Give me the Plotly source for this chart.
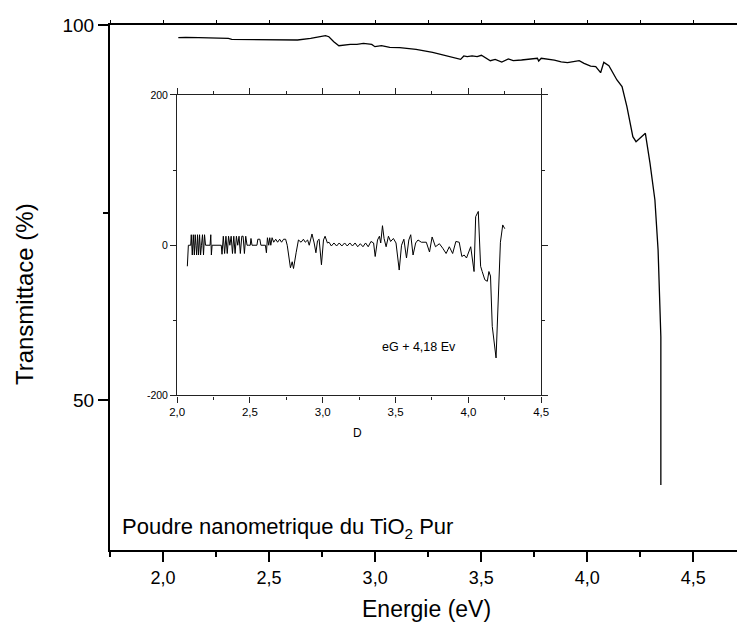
import plotly.graph_objects as go

# ---------------- data ----------------
# Main transmittance curve (Energy eV, Transmittance %)
main_energy = [2.072, 2.107, 2.169, 2.308, 2.324, 2.479, 2.634, 2.696, 2.766, 2.782,
               2.805, 2.829, 2.883, 2.914, 2.945, 2.984, 2.999, 3.030, 3.069, 3.116,
               3.193, 3.271, 3.333, 3.380, 3.403, 3.418, 3.434, 3.457, 3.481, 3.501,
               3.519, 3.543, 3.566, 3.597, 3.628, 3.651, 3.690, 3.737, 3.765, 3.771,
               3.783, 3.845, 3.877, 3.907, 3.939, 3.962, 3.985, 4.016, 4.040, 4.063,
               4.078, 4.102, 4.140, 4.164, 4.187, 4.215, 4.230, 4.249, 4.274, 4.296,
               4.319, 4.334, 4.342, 4.347, 4.347]
main_trans = [98.31, 98.36, 98.31, 98.22, 98.09, 98.04, 98.00, 98.22, 98.58, 98.44,
              97.78, 97.24, 97.42, 97.42, 97.56, 97.42, 97.11, 97.24, 97.02, 96.98,
              96.76, 96.36, 95.91, 95.56, 95.42, 95.87, 95.78, 95.87, 95.78, 95.96,
              95.69, 95.24, 95.42, 95.07, 95.47, 95.24, 95.33, 95.47, 95.56, 95.20,
              95.56, 95.33, 95.07, 94.98, 95.16, 95.24, 94.89, 94.53, 94.44, 93.64,
              95.02, 94.58, 92.67, 91.78, 89.11, 85.11, 84.44, 84.98, 85.56, 81.56,
              76.67, 70.00, 63.33, 58.44, 38.67]

# Inset derivative curve
inset_energy = [2.070, 2.077, 2.093, 2.097, 2.104, 2.111, 2.118, 2.124, 2.129, 2.134,
                2.140, 2.147, 2.154, 2.161, 2.167, 2.174, 2.181, 2.188, 2.195, 2.226,
                2.231, 2.235, 2.240, 2.303, 2.308, 2.317, 2.326, 2.335, 2.344, 2.353,
                2.362, 2.371, 2.380, 2.389, 2.398, 2.407, 2.416, 2.425, 2.434, 2.444,
                2.453, 2.462, 2.471, 2.480, 2.489, 2.502, 2.507, 2.514, 2.548, 2.554,
                2.568, 2.575, 2.606, 2.613, 2.620, 2.629, 2.636, 2.643, 2.652, 2.663,
                2.677, 2.690, 2.704, 2.717, 2.731, 2.745, 2.756, 2.778, 2.790, 2.799,
                2.817, 2.833, 2.851, 2.867, 2.880, 2.896, 2.907, 2.926, 2.941, 2.953,
                2.964, 2.975, 2.991, 3.005, 3.016, 3.032, 3.043, 3.059, 3.077, 3.095,
                3.113, 3.131, 3.150, 3.168, 3.186, 3.204, 3.222, 3.240, 3.258, 3.276,
                3.294, 3.312, 3.331, 3.349, 3.360, 3.376, 3.389, 3.398, 3.410, 3.421,
                3.435, 3.451, 3.466, 3.485, 3.503, 3.525, 3.541, 3.557, 3.575, 3.591,
                3.604, 3.620, 3.638, 3.654, 3.677, 3.711, 3.733, 3.751, 3.774, 3.801,
                3.824, 3.847, 3.869, 3.892, 3.914, 3.937, 3.955, 3.971, 3.987, 4.016,
                4.039, 4.050, 4.068, 4.084, 4.095, 4.113, 4.130, 4.141, 4.152, 4.164,
                4.190, 4.220, 4.236, 4.250]
inset_deriv = [-28, 0, 0, 14, -13, 14, -13, 14, 0, -13,
               14, -13, 14, -13, 0, 14, -13, 14, 0, 0,
               14, -13, 0, 0, -12, 12, -11, 12, -11, 12,
               0, 12, -11, 12, -11, 12, 0, 12, -11, 12,
               12, -11, 12, 0, 0, 0, 9, 0, 0, 8,
               8, 0, 0, -10, 10, 0, 10, 0, 10, 4,
               8, 4, 8, 4, 8, 8, 0, -30, -22, -31,
               -10, 7, 4, 8, 4, 7, 0, 15, 3, -10,
               6, 8, -26, 7, 12, 3, 4, -1, 3, -1,
               3, -1, 3, -1, 3, -1, 3, -2, 2, -2,
               3, -2, 5, 3, -15, 7, 12, 3, 26, 9,
               -2, 12, 5, 9, 3, -33, 0, 8, -17, 7,
               14, -13, 3, 7, 4, 4, -9, 11, -2, 2,
               -4, -11, -2, -11, 5, 4, -15, -13, -17, -2,
               -35, 38, 45, -28, -35, -46, -48, -35, -41, -108,
               -150, 4, 27, 22]

main_x_ticks = [1.75, 2.0, 2.25, 2.5, 2.75, 3.0, 3.25, 3.5, 3.75, 4.0, 4.25, 4.5]
inset_y_tickvals = [-200, 0, 200]
inset_y_ticktext = ["-200", "0", "200"]

FONT = "Arial, Liberation Sans, sans-serif"

fig = go.Figure()
fig.add_trace(go.Scatter(x=main_energy, y=main_trans, mode="lines",
                         line=dict(color="black", width=1.3),
                         xaxis="x", yaxis="y", hoverinfo="skip"))
# invisible trace to keep the top tick axis alive
fig.add_trace(go.Scatter(x=[main_energy[0]], y=[main_trans[0]], mode="markers",
                         marker=dict(opacity=0), xaxis="x3", yaxis="y",
                         hoverinfo="skip"))
fig.add_trace(go.Scatter(x=inset_energy, y=inset_deriv, mode="lines",
                         line=dict(color="black", width=1),
                         xaxis="x2", yaxis="y2", hoverinfo="skip"))

xr = [1.75, 4.706]

fig.update_layout(
    width=737, height=620, autosize=False,
    margin=dict(l=102, r=0, t=17, b=78),
    paper_bgcolor="white", plot_bgcolor="white",
    showlegend=False,
    separators=",.",
    font=dict(family=FONT, color="black"),
    xaxis=dict(domain=[0, 1], range=xr, anchor="y",
               showline=True, linewidth=2, linecolor="black",
               ticks="outside", ticklen=10, tickwidth=1.5, tickcolor="black",
               tick0=0, dtick=0.5, tickformat=".1f",
               minor=dict(ticks="outside", ticklen=5, tickwidth=1.5,
                          tickcolor="black", dtick=0.25, tick0=0, showgrid=False),
               showgrid=False, zeroline=False,
               tickfont=dict(size=18, family=FONT)),
    xaxis3=dict(overlaying="x", side="top", range=xr, anchor="y",
                showline=True, linewidth=2, linecolor="black",
                tickmode="array", tickvals=main_x_ticks,
                ticks="outside", ticklen=3, tickwidth=1.2, tickcolor="black",
                showticklabels=False, showgrid=False, zeroline=False),
    yaxis=dict(domain=[0, 1], range=[30, 100], anchor="x",
               showline=True, linewidth=2, linecolor="black",
               ticks="outside", ticklen=10, tickwidth=1.5, tickcolor="black",
               tick0=0, dtick=50,
               minor=dict(ticks="outside", ticklen=5, tickwidth=1.5,
                          tickcolor="black", dtick=25, tick0=0, showgrid=False),
               showgrid=False, zeroline=False,
               tickfont=dict(size=19, family=FONT)),
    xaxis2=dict(domain=[0.1071, 0.6877], range=[2.0, 4.5], anchor="y2",
                showline=True, linewidth=1.2, linecolor="#222", mirror="ticks",
                ticks="outside", ticklen=6, tickwidth=1, tickcolor="#222",
                tick0=0, dtick=0.5, tickformat=".1f",
                minor=dict(ticks="outside", ticklen=3, tickwidth=1,
                           tickcolor="#222", dtick=0.25, tick0=0, showgrid=False),
                showgrid=False, zeroline=False,
                tickfont=dict(size=11.5, family=FONT)),
    yaxis2=dict(domain=[0.2943, 0.8667], range=[-200, 200], anchor="x2",
                showline=True, linewidth=1.2, linecolor="#222", mirror="ticks",
                ticks="outside", ticklen=6, tickwidth=1, tickcolor="#222",
                tickmode="array", tickvals=inset_y_tickvals, ticktext=inset_y_ticktext,
                minor=dict(ticks="outside", ticklen=3, tickwidth=1,
                           tickcolor="#222", tickvals=[-100, 100], showgrid=False),
                showgrid=False, zeroline=False,
                tickfont=dict(size=10.5, family=FONT)),
)

fig.add_annotation(text="Transmittace (%)", xref="paper", yref="paper",
                   x=-0.137, y=0.4876, textangle=-90, showarrow=False,
                   xanchor="center", yanchor="middle",
                   font=dict(size=24, family=FONT, color="black"))
fig.add_annotation(text="Energie (eV)", xref="paper", yref="paper",
                   x=0.5055, y=-0.1124, showarrow=False,
                   xanchor="center", yanchor="middle",
                   font=dict(size=23, family=FONT, color="black"))
fig.add_annotation(text="Poudre nanometrique du TiO<sub>2</sub> Pur",
                   xref="paper", yref="paper", x=0.0157, y=0.0419,
                   showarrow=False, xanchor="left", yanchor="middle",
                   font=dict(size=22, family=FONT, color="black"))
fig.add_annotation(text="eG + 4,18 Ev", xref="x2", yref="y2",
                   x=3.663, y=-135, showarrow=False,
                   xanchor="center", yanchor="middle",
                   font=dict(size=12.5, family=FONT, color="black"))
fig.add_annotation(text="D", xref="paper", yref="paper",
                   x=0.395, y=0.2229, showarrow=False,
                   xanchor="center", yanchor="middle",
                   font=dict(size=12, family=FONT, color="black"))

fig.write_html("out.html")
